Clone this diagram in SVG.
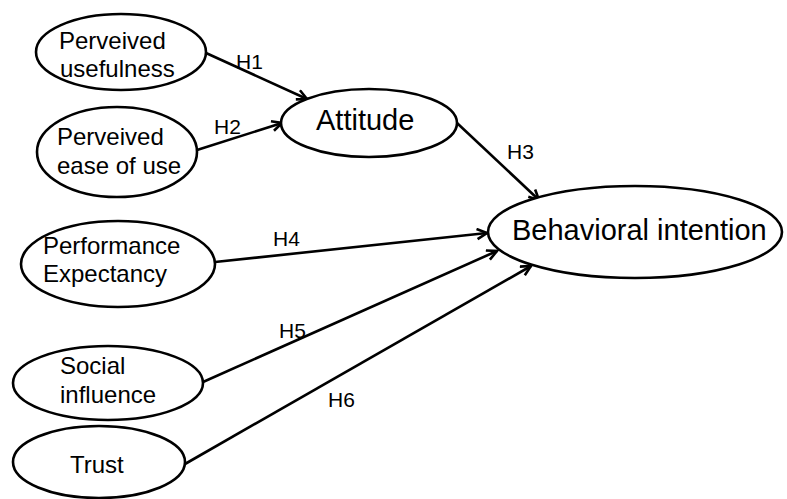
<svg xmlns="http://www.w3.org/2000/svg" width="787" height="499" viewBox="0 0 787 499">
<style>
.n ellipse{fill:#fff;stroke:#000;stroke-width:2.6}
.t{font-family:"Liberation Sans",Arial,sans-serif;font-size:24px;fill:#000}
.b{font-family:"Liberation Sans",Arial,sans-serif;font-size:29px;fill:#000}
.h{font-family:"Liberation Sans",Arial,sans-serif;font-size:21px;fill:#000}
.c line{stroke:#000;stroke-width:2.6;marker-end:url(#ah)}
</style>
<defs>
<marker id="ah" markerWidth="14" markerHeight="14" refX="11" refY="6" orient="auto" markerUnits="userSpaceOnUse">
<polyline points="1,1 11,6 1,11" fill="none" stroke="#000" stroke-width="2.6"/>
</marker>
</defs>
<g class="c" id="connectors">
<line x1="206" y1="53" x2="307" y2="99"/>
<line x1="197" y1="150" x2="282" y2="123"/>
<line x1="457" y1="123" x2="539" y2="200"/>
<line x1="215" y1="262" x2="487" y2="233"/>
<line x1="203" y1="382" x2="497" y2="251"/>
<line x1="185" y1="464" x2="531" y2="266"/>
</g>
<g class="h" id="labels">
<text x="236" y="69">H1</text>
<text x="214" y="134">H2</text>
<text x="507" y="159">H3</text>
<text x="273" y="246">H4</text>
<text x="279" y="338">H5</text>
<text x="328" y="407">H6</text>
</g>
<g class="n" id="pu">
<ellipse cx="121" cy="52" rx="85" ry="38"/>
<text class="t" x="59" y="49">Perveived</text>
<text class="t" x="60" y="77">usefulness</text>
</g>
<g class="n" id="peou">
<ellipse cx="117" cy="152" rx="80" ry="45"/>
<text class="t" x="57" y="145">Perveived</text>
<text class="t" x="57" y="174">ease of use</text>
</g>
<g class="n" id="att">
<ellipse cx="369" cy="123" rx="88" ry="34"/>
<text class="b" x="316" y="130">Attitude</text>
</g>
<g class="n" id="bi">
<ellipse cx="635" cy="232" rx="147" ry="46"/>
<text class="b" x="512" y="240">Behavioral intention</text>
</g>
<g class="n" id="pe">
<ellipse cx="118" cy="264" rx="97" ry="43"/>
<text class="t" x="43" y="254">Performance</text>
<text class="t" x="43" y="282">Expectancy</text>
</g>
<g class="n" id="si">
<ellipse cx="108" cy="383" rx="95" ry="37"/>
<text class="t" x="60" y="374">Social</text>
<text class="t" x="60" y="403">influence</text>
</g>
<g class="n" id="trust">
<ellipse cx="99" cy="462" rx="86" ry="36"/>
<text class="t" x="70" y="473">Trust</text>
</g>
</svg>
